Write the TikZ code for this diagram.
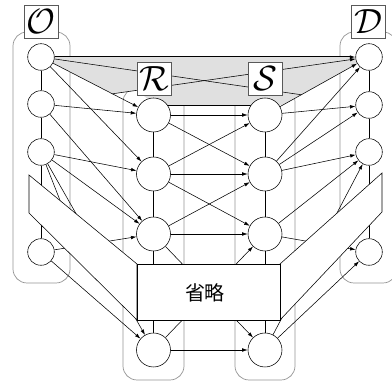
\documentclass[tikz,border=0pt]{standalone}
\usepackage{fontspec}
\newfontfamily\cjk{Noto Sans CJK JP}
\usetikzlibrary{arrows.meta,calc}
\pgfdeclarelayer{bg}
\pgfdeclarelayer{mid}
\pgfsetlayers{bg,mid,main}
\begin{document}
\begin{tikzpicture}[x=1pt,y=-1pt,
  sm/.style={circle,draw,fill=white,minimum size=26.6pt,inner sep=0pt,line width=0.55pt},
  lg/.style={circle,draw,fill=white,minimum size=34pt,inner sep=0pt,line width=0.55pt},
  grp/.style={draw=black!42,line width=0.7pt,rounded corners=14pt},
  lbl/.style={draw=black!65,fill=white,minimum width=34pt,minimum height=33pt,inner sep=0pt,line width=0.6pt},
  arr/.style={line width=0.55pt,-{Latex[length=5.5pt,width=3.6pt]}},
  plain/.style={line width=0.55pt},
  wing/.style={draw,fill=white,line width=0.55pt,line join=miter},
  thick line/.style={line width=1pt}
]
\useasboundingbox (0,0) rectangle (392,387);
% nodes
\node[sm] (O1) at (41,57) {};
\node[sm] (O2) at (41,104) {};
\node[sm] (O3) at (41,152) {};
\node[sm] (O4) at (41,252) {};
\node[lg] (R1) at (153.5,115) {};
\node[lg] (R2) at (153.5,174) {};
\node[lg] (R3) at (153.5,234) {};
\node[lg] (R4) at (153.5,350) {};
\node[lg] (S1) at (265,115) {};
\node[lg] (S2) at (265,174) {};
\node[lg] (S3) at (265,234) {};
\node[lg] (S4) at (265,350) {};
\node[sm] (D1) at (369,57) {};
\node[sm] (D2) at (369,105) {};
\node[sm] (D3) at (369,152) {};
\node[sm] (D4) at (369,252) {};
\coordinate (PA) at ($(S1)!0.349!(D1)$);
\coordinate (PB) at ($(O1)!0.635!(R1)$);
\coordinate (PC) at ($(S1)!0.172!(D1)$);
\coordinate (X1) at (65,213);
\begin{pgfonlayer}{bg}
  % groups
  \draw[grp] (13,32) rectangle (70,283);
  \draw[grp] (123,88) rectangle (184,380);
  \draw[grp] (235,88) rectangle (295,380);
  \draw[grp] (340,32) rectangle (397,283);
  % shaded plane
  \fill[black!12] (O1.center) -- (D1.center) -- (PC) -- (155,105) -- (137,90.2) -- (PB) -- cycle;
  \draw[thick line] (R1.center |- PC) -- (S1.center |- PC);
  % hidden lines
  \draw[plain] (O3) -- (O4);
  \draw[plain] (R3) -- (R4);
  \draw[plain] (S3) -- (S4);
  \draw[plain] (D3) -- (D4);
  \draw[arr] (O3) -- (R4);
  \draw[plain] (O3) -- (X1);
  \draw[arr] (O4) -- (R3);
  \draw[arr] (R3) -- (S4);
  \draw[arr] (R4) -- (S3);
  \draw[arr] (S3) -- (D4);
  \draw[arr] (S4) -- (D3);
\end{pgfonlayer}
\begin{pgfonlayer}{mid}
  \path[wing] (29,175) -- (137,264) -- (137,320) -- (29,213) -- cycle;
  \path[wing] (382,173) -- (280,264) -- (280,320) -- (382,212) -- cycle;
  \node[draw,fill=white,line width=0.55pt,minimum width=143pt,minimum height=56pt,inner sep=0pt] (box) at (208.5,292) {};
  \node[font=\cjk\fontsize{20}{20}\selectfont] (om) at (205,293) {省略};
\end{pgfonlayer}
% column lines
\draw[plain] (O1) -- (O2); \draw[plain] (O2) -- (O3);
\draw[plain] (R1) -- (R2); \draw[plain] (R2) -- (R3);
\draw[plain] (S1) -- (S2); \draw[plain] (S2) -- (S3);
\draw[plain] (D1) -- (D2); \draw[plain] (D2) -- (D3);
% O -> R
\draw[arr] (O1) -- (R1);
\draw[arr] (O1) -- (R2);
\draw[arr] (O2) -- (R1);
\draw[arr] (O2) -- (R3);
\draw[arr] (O3) -- (R2);
\draw[arr] (O3) -- (R3);
\draw[arr] (O4) -- (R4);
% R -> S
\draw[arr] (R1) -- (S1);
\draw[arr] (R1) -- (S2);
\draw[arr] (R2) -- (S1);
\draw[arr] (R2) -- (S2);
\draw[arr] (R2) -- (S3);
\draw[arr] (R3) -- (S2);
\draw[arr] (R3) -- (S3);
\draw[arr] (R4) -- (S4);
% S -> D
\draw[arr] (S1) -- (D1);
\draw[arr] (S1) -- (D2);
\draw[arr] (S2) -- (D1);
\draw[arr] (S2) -- (D2);
\draw[arr] (S2) -- (D3);
\draw[arr] (S3) -- (D3);
\draw[arr] (S4) -- (D4);
% plane lines
\draw[arr,thick line] (O1) -- (D1);
\draw[plain] (O1) -- (PA);
\draw[arr] (PB) -- (D1);
% labels
\node[lbl] (LO) at (41,21.5) {\scalebox{3.5}{$\mathcal{O}$}};
\node[lbl] (LR) at (154,78.5) {\scalebox{3.5}{$\mathcal{R}$}};
\node[lbl] (LS) at (265.5,78.5) {\scalebox{3.5}{$\mathcal{S}$}};
\node[lbl] (LD) at (368,21.5) {\scalebox{3.5}{$\mathcal{D}$}};
\end{tikzpicture}
\end{document}
